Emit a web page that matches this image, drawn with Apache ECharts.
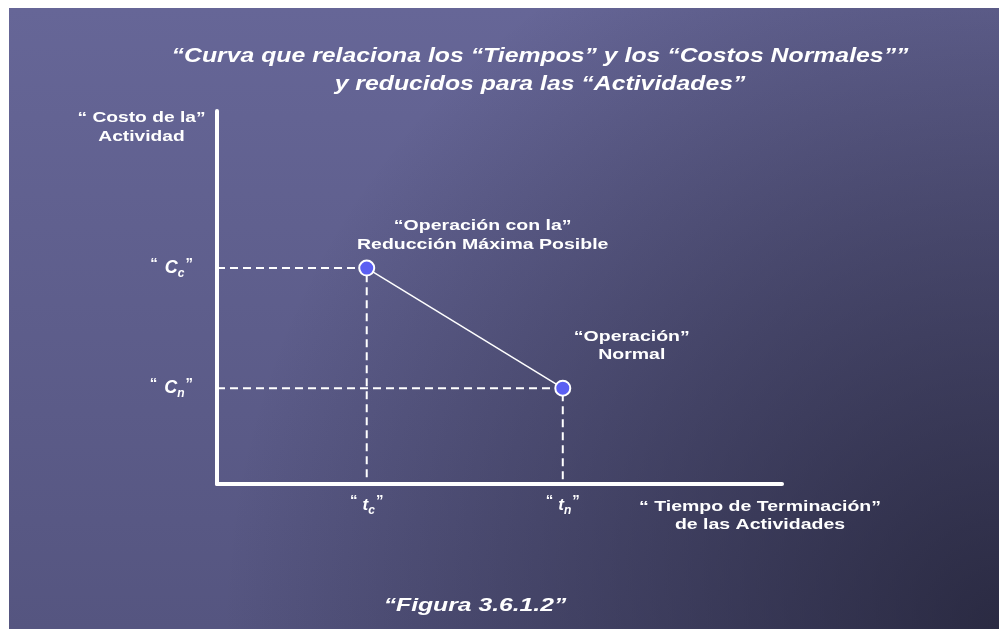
<!DOCTYPE html>
<html><head><meta charset="utf-8">
<script src="https://cdn.jsdelivr.net/npm/echarts@6/dist/echarts.min.js"></script>
<style>html,body{margin:0;padding:0;background:#fff}#c{width:999px;height:629px}</style>
</head><body><div id="c"></div>
<script>
// ---- data ----
const titleLines = ['“Curva que relaciona los “Tiempos” y los “Costos Normales””', 'y reducidos para las “Actividades”'];
const figureLabel = '“Figura 3.6.1.2”';
const yAxisNameLines = ['“ Costo de la”', 'Actividad'];
const xAxisNameLines = ['“ Tiempo de Terminación”', 'de las Actividades'];
const pointNames = ['“Operación con la”\nReducción Máxima Posible', '“Operación”\nNormal'];
const times = [26.5, 61.2];        // t_c, t_n
const costs = [57.9, 25.7];        // C_c, C_n
const timeTickSubs = ['c', 'n'];
const costTickSubs = ['c', 'n'];

const FONT = '"Liberation Sans"';
function nearest(arr, v) { let b = 0; for (let i = 1; i < arr.length; i++) if (Math.abs(arr[i] - v) < Math.abs(arr[b] - v)) b = i; return b; }

const chart = echarts.init(document.getElementById('c'), null, {renderer: 'canvas'});

const guideSeries = times.map((t, i) => ({
  type: 'line', silent: true, symbol: 'none', z: 1,
  data: [[0, costs[i]], [t, costs[i]], [t, 0]],
  lineStyle: {color: '#ffffff', width: 2, type: [8, 5]}
}));

function makeRich(vSize, gap) {
  return {
    o: {fontSize: 15, fontWeight: 'bold', color: '#fff', fontFamily: 'Liberation Sans', lineHeight: 18, verticalAlign: 'top', padding: [0, gap, 0, 0]},
    q: {fontSize: 15, fontWeight: 'bold', color: '#fff', fontFamily: 'Liberation Sans', lineHeight: 18, verticalAlign: 'top', padding: [0, 0, 0, 1]},
    v: {fontSize: vSize, fontWeight: 'bold', fontStyle: 'italic', color: '#fff', fontFamily: 'Liberation Sans', lineHeight: 24, verticalAlign: 'middle'},
    s: {fontSize: 12, fontWeight: 'bold', fontStyle: 'italic', color: '#fff', fontFamily: 'Liberation Sans', verticalAlign: 'bottom'}
  };
}

function txt(text, x, y, size, italic, lh, stretch) {
  return {type: 'text', silent: true, x: x, y: y, scaleX: stretch, z: 10,
    style: {text: text, fill: '#fff', font: (italic ? 'italic ' : '') + 'bold ' + size + 'px ' + FONT,
      lineHeight: lh, align: 'center', verticalAlign: 'middle'}};
}

const background = [
  {type: 'rect', silent: true, z: -100, shape: {x: 9, y: 8, width: 990, height: 621},
   style: {fill: {type: 'linear', x: 0, y: 0, x2: 0, y2: 1, colorStops: [
     {offset: 0, color: '#666697'}, {offset: 1, color: '#555580'}]}}},
  {type: 'rect', silent: true, z: -99, shape: {x: 9, y: 8, width: 990, height: 621},
   style: {fill: {type: 'radial', x: 1, y: 1, r: 1.25, colorStops: [
     {offset: 0, color: 'rgba(24,24,40,0.70)'}, {offset: 0.5, color: 'rgba(24,24,40,0.36)'}, {offset: 1, color: 'rgba(24,24,40,0)'}]}}}
];

const option = {
  animation: false,
  backgroundColor: '#ffffff',
  grid: {left: 217, top: 111, width: 565, height: 373, containLabel: false},
  xAxis: {
    type: 'value', min: 0, max: 100,
    axisLine: {show: true, onZero: false, lineStyle: {color: '#fff', width: 4}},
    axisTick: {show: false}, splitLine: {show: false},
    axisLabel: {customValues: times, margin: 9, rich: makeRich(17, 5),
      formatter: v => '{o|“}{v|t}{s|' + timeTickSubs[nearest(times, v)] + '}{q|”}'}
  },
  yAxis: {
    type: 'value', min: 0, max: 100,
    axisLine: {show: true, onZero: false, lineStyle: {color: '#fff', width: 4}},
    axisTick: {show: false}, splitLine: {show: false},
    axisLabel: {customValues: costs, margin: 24, rich: makeRich(18, 7),
      formatter: v => '{o|“}{v|C}{s|' + costTickSubs[nearest(costs, v)] + '}{q|”}'}
  },
  series: guideSeries.concat([{
    type: 'line', z: 5, data: times.map((t, i) => [t, costs[i]]),
    symbol: 'circle', symbolSize: 15,
    lineStyle: {color: '#fff', width: 1.5},
    itemStyle: {color: '#5b5ff2', borderColor: '#fff', borderWidth: 2}
  }])
};
chart.setOption(option);

// text annotations, positioned from the data through the axes
const labelOffsets = [[116, -32.5], [69, -42]];
const labelLineHeights = [19, 18];
const pointLabels = times.map((t, i) => {
  const p = chart.convertToPixel({gridIndex: 0}, [t, costs[i]]);
  return txt(pointNames[i], p[0] + labelOffsets[i][0], p[1] + labelOffsets[i][1], 15, false, labelLineHeights[i], 1.3);
});

chart.setOption({
  graphic: background.concat([
    txt(titleLines.join('\n'), 540, 70.5, 20, true, 28.5, 1.24),
    txt(yAxisNameLines.join('\n'), 141.5, 127.5, 15, false, 19.5, 1.28),
    txt(xAxisNameLines.join('\n'), 760, 516, 15, false, 18, 1.3),
    txt(figureLabel, 475, 606, 19, true, 22, 1.3)
  ], pointLabels)
});
</script></body></html>
